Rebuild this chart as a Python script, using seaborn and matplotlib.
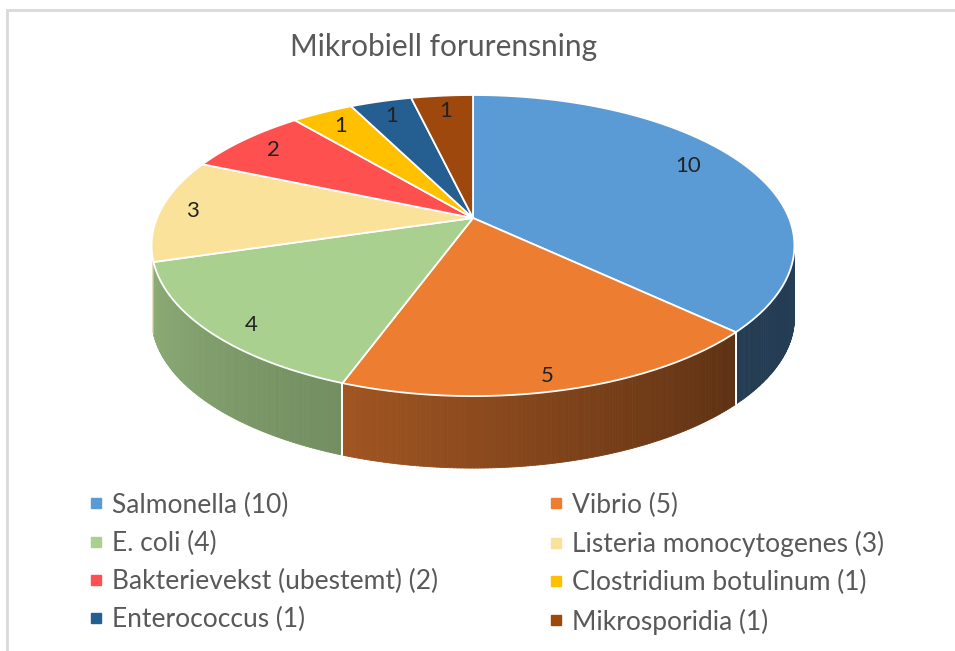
import numpy as np
import matplotlib
matplotlib.use("Agg")
import matplotlib.pyplot as plt
import matplotlib.transforms as mtransforms
from matplotlib.path import Path
from matplotlib.collections import PolyCollection
from matplotlib.lines import Line2D
from matplotlib.patches import Rectangle
import seaborn as sns

sns.set_theme(style="white")
plt.rcParams["font.family"] = ["Lato", "DejaVu Sans"]

# ── data ────────────────────────────────────────────────────────────────
categories = ["Salmonella", "Vibrio", "E. coli", "Listeria monocytogenes",
              "Bakterievekst (ubestemt)", "Clostridium botulinum",
              "Enterococcus", "Mikrosporidia"]
counts = [10, 5, 4, 3, 2, 1, 1, 1]
colors = ["#5B9BD5", "#ED7D31", "#A9D08E", "#FAE29B",
          "#FF5050", "#FFC000", "#255E91", "#9E480E"]
title = "Mikrobiell forurensning"

# ── tilted-disc projection (unit pie -> pixel space) ────────────────────
CX, CY = 473, 218
RX, RY = 316, 145.5
P = 0.183          # perspective strength
DEPTH = 72         # thickness of the pie in px
TEXT = "#595959"


class Tilt(mtransforms.Transform):
    input_dims = output_dims = 2
    is_separable = False
    has_inverse = False

    def transform_non_affine(self, xy):
        xy = np.asarray(xy, float).reshape(-1, 2)
        w = 1 + P * xy[:, 1]
        return np.column_stack([CX + RX * xy[:, 0] / w, CY - RY * xy[:, 1] / w])

    def transform_path_non_affine(self, path):
        polys = path.to_polygons(transform=mtransforms.Affine2D().scale(1000),
                                 closed_only=True)
        return Path.make_compound_path(
            *[Path(self.transform_non_affine(p / 1000), closed=True) for p in polys])


tilt = Tilt()
palette = sns.color_palette(colors)

fig = plt.figure(figsize=(9.55, 6.51), dpi=100)
ax = fig.add_axes([0, 0, 1, 1])

wedges, _, autotexts = ax.pie(
    counts, colors=palette, startangle=90, counterclock=False,
    autopct=lambda p: f"{p * sum(counts) / 100:.0f}", pctdistance=0.86,
    wedgeprops=dict(edgecolor="white", linewidth=1.3),
    textprops=dict(fontsize=16, color="#222222"),
)
for w in wedges:
    w.set_transform(tilt + ax.transData)
    w.set_zorder(3)
for w, txt in zip(wedges, autotexts):
    mid = np.radians((w.theta1 + w.theta2) / 2)
    drop = max(0.0, -np.sin(mid)) * 15      # front labels sit a bit lower
    shift_x = -12 * abs(np.cos(mid)) if np.cos(mid) < -0.9 else 0
    if w.theta2 > 60 and np.cos(mid) > 0.5:   # big slice label nearer centre
        shift_x, drop = -20, -5
    txt.set_transform(tilt + ax.transData
                      + mtransforms.Affine2D().translate(shift_x, -drop))
    txt.set_zorder(4)

# side of the pie: only the front half of the rim is visible
front_lo = -164
front_hi = -np.degrees(np.arcsin(P))


def shade(t):
    return np.interp(t, [-170, -163, -110, -43, -10],
                     [0.84, 0.83, 0.68, 0.39, 0.40])


for w, col in zip(wedges, palette):
    a, b = max(w.theta1, front_lo), min(w.theta2, front_hi)
    if a >= b:
        continue
    ts = np.linspace(a, b, max(int((b - a) * 2), 3))
    rad = np.radians(ts)
    top = tilt.transform(np.column_stack([np.cos(rad), np.sin(rad)]))
    bot = top + [0, DEPTH]
    quads = [[top[i], top[i + 1], bot[i + 1], bot[i]] for i in range(len(ts) - 1)]
    mids = (ts[:-1] + ts[1:]) / 2
    fc = [tuple(np.clip(np.array(col) * shade(m), 0, 1)) for m in mids]
    ax.add_collection(PolyCollection(quads, facecolors=fc, edgecolors=fc,
                                     linewidths=0.6, zorder=1))
    for t_edge, pt_top, pt_bot in ((a, top[0], bot[0]), (b, top[-1], bot[-1])):
        if front_lo + 1 < t_edge < front_hi:
            ax.plot([pt_top[0], pt_bot[0]], [pt_top[1], pt_bot[1]],
                    color="white", lw=1.3, zorder=2)

ax.set_aspect("auto")
ax.set_xlim(0, 955)
ax.set_ylim(651, 0)
ax.axis("off")

# ── title, legend, frame ────────────────────────────────────────────────
fig.text(444 / 955, 1 - 47 / 651, title, ha="center", va="center",
         fontsize=21.5, color=TEXT)

handles = [Line2D([], [], marker="s", linestyle="", color=c, markersize=7)
           for c in palette]
labels = [f"{c} ({n})" for c, n in zip(categories, counts)]
order = [0, 2, 4, 6, 1, 3, 5, 7]
ax.legend([handles[i] for i in order], [labels[i] for i in order],
          ncol=2, loc="upper left", bbox_to_anchor=(79 / 955, 1 - 482 / 651),
          bbox_transform=fig.transFigure, frameon=False, fontsize=19,
          labelcolor=TEXT, handlelength=0.5, handletextpad=0.35,
          columnspacing=4.23, labelspacing=0.5, borderaxespad=0)

fig.add_artist(Rectangle((7 / 955, -0.1), 1.2, 1.1 - 10 / 651,
                         transform=fig.transFigure, fill=False,
                         edgecolor="#D9D9D9", linewidth=2))

fig.savefig("out.png", dpi=100)
